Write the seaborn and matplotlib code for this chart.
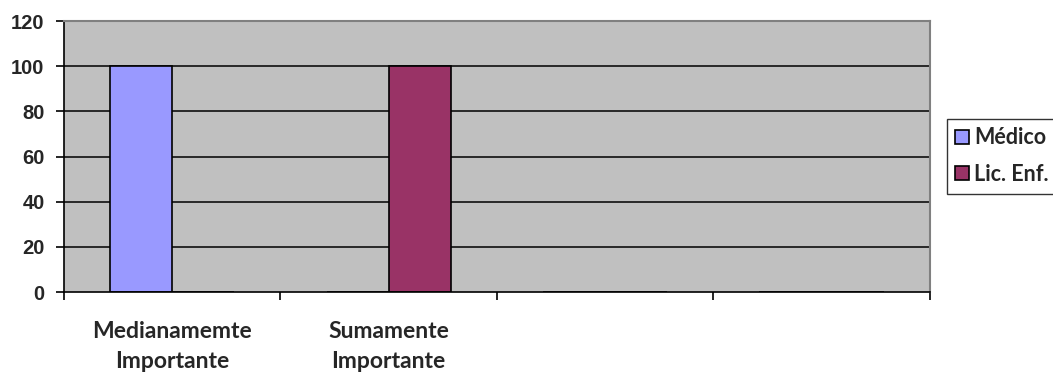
import matplotlib
matplotlib.use("Agg")
import matplotlib.pyplot as plt
import seaborn as sns
import pandas as pd

categories = ["Medianamemte\nImportante", "Sumamente\nImportante", " ", "  "]
series_names = ["Médico", "Lic. Enf."]
medico = [100, 0, 0, 0]
lic_enf = [0, 100, 0, 0]
yticks = [0, 20, 40, 60, 80, 100, 120]

df = pd.DataFrame({
    "cat": categories * 2,
    "serie": [series_names[0]] * 4 + [series_names[1]] * 4,
    "val": medico + lic_enf,
})

sns.set_theme(style="white")
plt.rcParams["font.family"] = ["Lato", "DejaVu Sans"]
plt.rcParams["font.weight"] = "bold"

fig = plt.figure(figsize=(10.53, 3.72), dpi=100)
ax = fig.add_axes([0.0608, 0.215, 0.8222, 0.7285])
ax.set_facecolor("#c0c0c0")

sns.barplot(data=df, x="cat", y="val", hue="serie", order=categories,
            hue_order=series_names, palette=["#9999ff", "#993366"], saturation=1,
            width=0.574, edgecolor="black", linewidth=1.2, ax=ax, legend=True)

ax.set_ylim(0, 120)
ax.set_xlim(-0.5, 3.5)
ax.set_yticks(yticks)
ax.set_yticklabels([str(v) for v in yticks], fontsize=14.5, fontweight="bold",
                   family=["Liberation Sans", "DejaVu Sans"])
for v in yticks[1:-1]:
    ax.axhline(v, color="black", lw=1.1, zorder=0.5)
ax.set_axisbelow(True)

ax.set_xticks(range(4))
ax.set_xticklabels(categories, fontsize=16.5, fontweight="bold", linespacing=1.5)
ax.tick_params(axis="x", which="major", length=0, pad=21, bottom=True)
ax.set_xticks([-0.5, 0.5, 1.5, 2.5, 3.5], minor=True)
ax.tick_params(axis="x", which="minor", length=6, width=1.2, direction="out",
               color="black", bottom=True)
ax.tick_params(axis="y", length=6, width=1.2, direction="out", color="black", left=True, pad=8)
ax.set_xlabel("")
ax.set_ylabel("")

for s in ["left", "bottom"]:
    ax.spines[s].set_color("black")
    ax.spines[s].set_linewidth(1.2)
for s in ["top", "right"]:
    ax.spines[s].set_color("#808080")
    ax.spines[s].set_linewidth(1.5)

ax.get_legend().remove()
handles, labels = ax.get_legend_handles_labels()
leg = fig.legend(handles[:2], labels[:2], loc="center left", bbox_to_anchor=(0.899, 0.58),
                 frameon=True, fancybox=False, edgecolor="black", fontsize=15.5,
                 handlelength=0.62, handleheight=0.62, handletextpad=0.25,
                 borderpad=0.4, labelspacing=0.72, borderaxespad=0)
leg.get_frame().set_linewidth(1.0)
for t in leg.get_texts():
    t.set_fontweight("bold")

fig.savefig("out.png", dpi=100)
